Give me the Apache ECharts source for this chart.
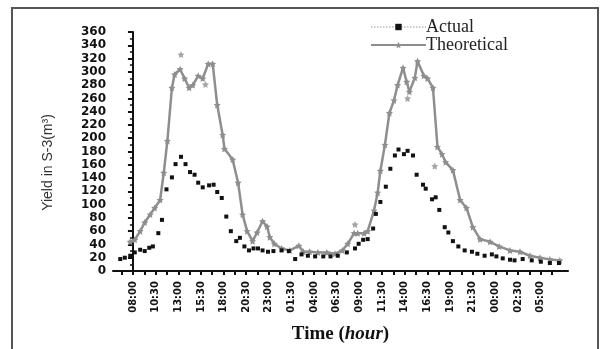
<!DOCTYPE html>
<html>
<head>
<meta charset="utf-8">
<script src="https://cdn.jsdelivr.net/npm/echarts@6/dist/echarts.min.js"></script>
<style>
	html, body { margin: 0; padding: 0; background: #fff; }
	#chart { width: 600px; height: 349px; }
</style>
</head>
<body>
<div id="chart"></div>
<script>
	// hours counted from 08:00 of the first day
	var actualHours = [ -1.4, -0.9, -0.3, 0.2, 0.8, 1.3, 1.8, 2.2, 2.8, 3.2, 3.7, 4.3, 4.7, 5.3, 5.8, 6.3, 6.8, 7.2, 7.7, 8.4, 8.9, 9.3, 9.8, 10.3, 10.8, 11.4, 11.8, 12.3, 12.8, 13.3, 13.8, 14.3, 14.9, 15.5, 16.4, 17.2, 17.9, 18.6, 19.3, 20.1, 21.0, 21.8, 22.6, 23.6, 24.5, 24.9, 25.4, 25.9, 26.5, 26.8, 27.3, 27.9, 28.4, 28.9, 29.3, 29.9, 30.3, 30.9, 31.3, 32.0, 32.3, 33.0, 33.4, 33.8, 34.4, 34.8, 35.3, 35.9, 36.6, 37.4, 38.0, 38.8, 39.6, 40.1, 40.8, 41.6, 42.1, 43.0, 44.0, 45.0, 46.0, 47.0 ];
	var actualValues = [ 18, 20, 23, 28, 32, 30, 35, 37, 57, 77, 123, 141, 161, 172, 161, 149, 145, 133, 126, 129, 130, 119, 110, 82, 60, 45, 50, 37, 31, 34, 34, 31, 29, 30, 31, 30, 18, 25, 23, 22, 22, 22, 23, 28, 34, 41, 47, 48, 64, 86, 104, 127, 154, 174, 183, 176, 181, 174, 145, 130, 124, 108, 111, 92, 66, 58, 45, 37, 31, 29, 26, 23, 25, 22, 19, 17, 16, 18, 16, 14, 12, 12 ];

	var theoHours = [ -0.3, 0.2, 0.8, 1.3, 1.9, 2.4, 3.0, 3.4, 3.8, 4.3, 4.6, 5.2, 5.7, 6.2, 6.6, 7.2, 7.7, 8.3, 8.8, 9.3, 9.9, 10.1, 11.0, 11.6, 12.1, 12.6, 13.2, 13.7, 14.3, 14.8, 15.1, 15.6, 16.4, 17.3, 18.3, 18.8, 19.5, 20.4, 21.4, 22.3, 23.1, 23.7, 24.4, 24.8, 25.5, 25.9, 26.6, 27.0, 27.3, 27.8, 28.3, 28.8, 29.2, 29.8, 30.2, 30.5, 31.1, 31.4, 32.1, 32.5, 33.1, 33.6, 34.1, 34.5, 35.3, 36.1, 36.8, 37.5, 38.3, 39.4, 40.4, 41.6, 42.7, 43.8, 44.9, 46.0, 47.1 ];
	var theoValues = [ 44, 47, 60, 73, 85, 95, 107, 148, 196, 276, 296, 304, 290, 276, 280, 294, 290, 312, 312, 250, 205, 184, 168, 133, 85, 60, 45, 58, 75, 67, 51, 41, 34, 31, 38, 29, 29, 28, 28, 26, 31, 41, 57, 57, 57, 60, 91, 118, 151, 190, 238, 257, 280, 306, 285, 270, 291, 316, 294, 290, 276, 187, 176, 164, 152, 107, 95, 66, 48, 44, 37, 31, 29, 23, 20, 17.5, 16 ];

	// loose theoretical stars lying off the line
	var theoExtraHours = [ 5.3, 8.0, 24.5, 30.3, 33.3 ];
	var theoExtraValues = [ 326, 281, 70, 260, 158 ];

	var tickLabels = [ "08:00", "10:30", "13:00", "15:30", "18:00", "20:30", "23:00", "01:30", "04:00", "06:30", "09:00", "11:30", "14:00", "16:30", "19:00", "21:30", "00:00", "02:30", "05:00" ];

	var pair = function( xs, ys ){
		var out = [];
		for( var i = 0; i < xs.length; ++i ) out.push( [ xs[ i ], ys[ i ] ] );
		return out;
	};

	var labelPos = [], tickPos = [];
	for( var i = 0; i < tickLabels.length; ++i ) labelPos.push( i * 2.5 );
	for( var i = -1; i <= 37; ++i ) tickPos.push( i * 1.25 );

	var star = "path://M0,-10 L2.9,-4 L9.5,-3.1 L4.7,1.5 L5.9,8.1 L0,5 L-5.9,8.1 L-4.7,1.5 L-9.5,-3.1 L-2.9,-4 Z";
	var GRAY = "#8e8e8e";

	var myChart = echarts.init( document.getElementById( "chart" ) );

	var option = {
		animation : false,
		backgroundColor : "#fff",
		graphic : [
			{ type : "rect", shape : { x : 12, y : 8, width : 586, height : 360 }, style : { fill : "none", stroke : "#555", lineWidth : 2 } }
		],
		legend : {
			orient : "vertical",
			left : 365,
			top : 13,
			itemWidth : 55,
			itemHeight : 8,
			itemGap : 0,
			textStyle : { fontFamily : "Liberation Serif", fontSize : 18, color : "#222", padding : [ 0, 0, 0, -5 ] },
			data : [
				{ name : "Actual", lineStyle : { type : "dotted", color : "#bbb", width : 1.5 } },
				{ name : "Theoretical" }
			]
		},
		grid : { left : 113, right : 32, top : 32, bottom : 71 },
		xAxis : {
			type : "value",
			min : -2.2,
			max : 48,
			name : "{a|Time (}{b|hour}{a|)}",
			nameLocation : "middle",
			nameGap : 54,
			nameTextStyle : {
				rich : {
					a : { fontFamily : "Liberation Serif", fontWeight : "bold", fontSize : 19, color : "#111" },
					b : { fontFamily : "Liberation Serif", fontWeight : "bold", fontStyle : "italic", fontSize : 19, color : "#111" }
				}
			},
			splitLine : { show : false },
			axisLine : { lineStyle : { color : "#111", width : 2 } },
			axisTick : { customValues : tickPos, length : 4, lineStyle : { color : "#111", width : 2 } },
			axisLabel : {
				customValues : labelPos,
				rotate : 90,
				margin : 10,
				fontFamily : "DejaVu Sans",
				fontWeight : "bold",
				fontSize : 10,
				color : "#111",
				formatter : function( v ){ return tickLabels[ Math.round( v / 2.5 ) ]; }
			}
		},
		yAxis : {
			type : "value",
			min : 0,
			max : 360,
			interval : 20,
			name : "Yield in S-3(m\u00b3)",
			nameLocation : "middle",
			nameGap : 58,
			nameTextStyle : { fontFamily : "Liberation Sans", fontSize : 14, color : "#333", padding : [ 0, 22, 0, 0 ] },
			splitLine : { show : false },
			axisLine : { show : true, lineStyle : { color : "#111", width : 2 } },
			axisTick : { show : true, length : 5, lineStyle : { color : "#111", width : 2 } },
			minorTick : { show : true, splitNumber : 2, length : 3, lineStyle : { color : "#111", width : 1.5 } },
			axisLabel : { margin : 7, fontFamily : "DejaVu Sans", fontWeight : "bold", fontSize : 12, color : "#111" }
		},
		series : [
			{
				name : "Actual",
				type : "line",
				data : pair( actualHours, actualValues ),
				symbol : "rect",
				symbolSize : 4,
				itemStyle : { color : "#111" },
				lineStyle : { width : 0 },
				z : 3
			},
			{
				name : "Theoretical",
				type : "line",
				data : pair( theoHours, theoValues ),
				symbol : star,
				symbolSize : 7,
				itemStyle : { color : GRAY },
				lineStyle : { color : GRAY, width : 2.5 },
				z : 2
			},
			{
				name : "Theoretical",
				type : "scatter",
				data : pair( theoExtraHours, theoExtraValues ),
				symbol : star,
				symbolSize : 7,
				itemStyle : { color : GRAY },
				z : 2
			}
		]
	};

	myChart.setOption( option, true );
</script>
</body>
</html>
